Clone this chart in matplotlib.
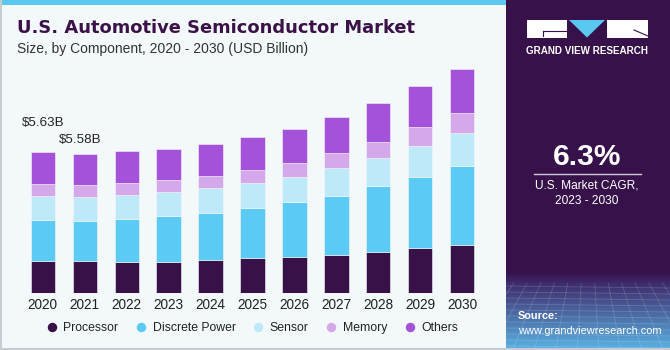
import matplotlib
matplotlib.use("Agg")
import matplotlib.pyplot as plt
import numpy as np
from matplotlib.patches import Rectangle, Polygon
from matplotlib.lines import Line2D

years = ["2020", "2021", "2022", "2023", "2024", "2025", "2026", "2027", "2028", "2029", "2030"]
processor = [1.30, 1.30, 1.26, 1.26, 1.33, 1.40, 1.46, 1.53, 1.66, 1.81, 1.92]
discrete_power = [1.63, 1.60, 1.70, 1.82, 1.88, 2.01, 2.17, 2.36, 2.62, 2.84, 3.18]
sensor = [0.96, 0.96, 0.96, 0.96, 1.00, 0.99, 1.01, 1.12, 1.12, 1.24, 1.31]
memory = [0.47, 0.45, 0.47, 0.48, 0.49, 0.52, 0.57, 0.60, 0.65, 0.75, 0.79]
others = [1.27, 1.27, 1.28, 1.25, 1.28, 1.34, 1.37, 1.44, 1.56, 1.64, 1.76]
series_names = ["Processor", "Discrete Power", "Sensor", "Memory", "Others"]
series_colors = ["#371147", "#5BCBF5", "#BDE9F9", "#D5A8EB", "#A452D9"]
annot_labels = ["$5.63B", "$5.58B"]

plt.rcParams['font.family'] = ['Liberation Sans', 'DejaVu Sans']

W, H = 670, 350
fig = plt.figure(figsize=(6.7, 3.5), dpi=100)
fig.patch.set_facecolor("#F3F8FB")

def fx(px):
    return px / W

def fy(py):
    return 1 - py / H

# top blue strip
fig.patches.append(Rectangle((0, fy(5)), fx(506), 5 / H, transform=fig.transFigure,
                             facecolor="#5BC8F0", edgecolor="none", zorder=0))
# borders
fig.add_artist(Line2D([fx(0.8), fx(0.8)], [0, 1], color="#C8CCD0", lw=1.5, transform=fig.transFigure))
fig.add_artist(Line2D([0, 1], [fy(348.5), fy(348.5)], color="#C8CCD0", lw=1.5, transform=fig.transFigure))

# right panel with gradient
pax = fig.add_axes([fx(506), 0, 1 - fx(506), 1])
pax.axis("off")
top = np.array([0x37, 0x12, 0x4A]) / 255
mid = np.array([0x3E, 0x2C, 0x6C]) / 255
bot = np.array([0x5A, 0xB4, 0xE6]) / 255
grad = np.zeros((350, 1, 3))
for r in range(350):
    if r < 272:
        grad[r, 0] = top
    elif r < 283:
        t = (r - 272) / 11
        grad[r, 0] = top * (1 - t) + mid * t
    else:
        t = (r - 283) / 67
        grad[r, 0] = mid * (1 - t) + bot * t
pax.imshow(grad, extent=[0, 1, 350, 0], aspect="auto", zorder=0)
for yy in np.arange(286, 350, 6):
    pax.plot([0, 1], [yy, yy + 2], color="white", alpha=0.16, lw=0.6)
for xx in np.linspace(-0.2, 1.2, 18):
    pax.plot([xx, 0.5 + (xx - 0.5) * 1.6], [283, 350], color="white", alpha=0.16, lw=0.6)
pax.set_xlim(0, 1)
pax.set_ylim(350, 0)

def px2p(x):
    return (x - 506) / (670 - 506)

# logo
pax.add_patch(Rectangle((px2p(527), 20), px2p(567) - px2p(527), 18, facecolor="white", edgecolor="none"))
pax.add_patch(Rectangle((px2p(607), 20), px2p(648) - px2p(607), 18, facecolor="white", edgecolor="none"))
pax.add_patch(Polygon([(px2p(569), 20), (px2p(605), 20), (px2p(587), 37.5)], closed=True,
                      facecolor="#5BC8F0", edgecolor="none"))
pax.plot([px2p(543), px2p(567)], [30.5, 30.5], color="#37124A", lw=0.8)
pax.plot([px2p(543), px2p(543)], [30.5, 36], color="#37124A", lw=0.8)
pax.plot([px2p(634), px2p(648)], [30, 36], color="#37124A", lw=0.8)
pax.text(px2p(587.5), 51, "GRAND VIEW RESEARCH", color="white", fontsize=7.1, fontweight="bold",
         ha="center", va="center")

pax.text(px2p(587), 157, "6.3%", color="white", fontsize=21.5, fontweight="bold", ha="center", va="center")
pax.plot([px2p(534), px2p(641)], [173.5, 173.5], color="#D0C8DA", lw=1)
pax.text(px2p(587), 185, "U.S. Market CAGR,", color="white", fontsize=8.6, ha="center", va="center")
pax.text(px2p(587), 201.5, "2023 - 2030", color="white", fontsize=8.6, ha="center", va="center")
pax.text(px2p(518), 316, "Source:", color="white", fontsize=7.9, fontweight="bold", ha="left", va="center")
pax.text(px2p(518), 330.5, "www.grandviewresearch.com", color="white", fontsize=7.9, ha="left", va="center")

# titles
fig.text(fx(17), fy(28), "U.S. Automotive Semiconductor Market", color="#3A1248", fontsize=12.9,
         fontweight="bold", ha="left", va="center", family=["DejaVu Sans"])
fig.text(fx(17), fy(48.5), "Size, by Component, 2020 - 2030 (USD Billion)", color="#333333",
         fontsize=10, ha="left", va="center")

# main chart
ax = fig.add_axes([fx(21), 1 - 293.3 / H, fx(484) - fx(21), (293.3 - 60) / H])
ax.set_facecolor("none")
x = np.arange(len(years))
bottom = np.zeros(len(years))
data = [processor, discrete_power, sensor, memory, others]
for vals, name, col in zip(data, series_names, series_colors):
    ax.bar(x, vals, width=0.58, bottom=bottom, color=col, edgecolor="#F3F8FB", linewidth=0.4, label=name)
    bottom = bottom + np.array(vals)
ax.set_xlim(-0.52, 10.52)
ax.set_ylim(0, 233.3 / 25.04)
ax.set_xticks(x)
ax.set_xticklabels(years, fontsize=9.8, color="#222222")
ax.tick_params(axis="x", length=0, pad=3.5)
ax.set_yticks([])
for s in ax.spines.values():
    s.set_visible(False)

ax.annotate(annot_labels[0], xy=(0, bottom[0]), xytext=(0, 21), textcoords="offset points",
            ha="center", va="center", fontsize=9.6, color="#222222")
ax.annotate(annot_labels[1], xy=(1, bottom[1]), xytext=(-3, 10), textcoords="offset points",
            ha="center", va="center", fontsize=9.6, color="#222222")

# legend
handles = [Line2D([0], [0], marker="o", color="none", markerfacecolor=c, markeredgecolor="none",
                  markersize=6.8) for c in series_colors]
fig.legend(handles, series_names, loc="center", bbox_to_anchor=(fx(252), fy(328)), ncol=5,
           frameon=False, fontsize=8.8, handletextpad=0.45, columnspacing=1.35, handlelength=1.0,
           labelcolor="#222222")

fig.savefig("out.png", dpi=100, facecolor=fig.get_facecolor())
